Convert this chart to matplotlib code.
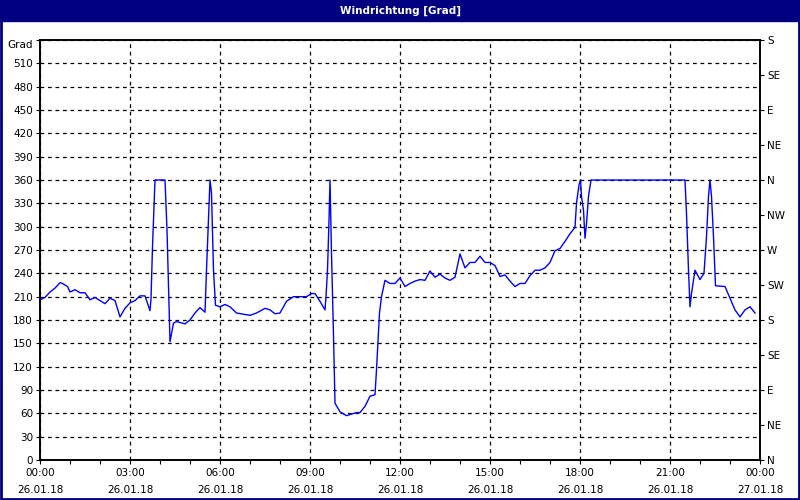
import matplotlib
matplotlib.use("Agg")
import matplotlib.pyplot as plt
import pandas as pd

# wind direction readings, 26.01.18 (time of day, degrees)
times = ["00:00", "00:10", "00:20", "00:30", "00:40", "00:45", "00:55", "01:00", "01:10", "01:20",
         "01:30", "01:40", "01:50", "02:00", "02:10", "02:20", "02:30", "02:40", "02:50", "03:00",
         "03:10", "03:20", "03:30", "03:40", "03:42", "03:45", "03:50", "04:10", "04:14", "04:20",
         "04:27", "04:33", "04:50", "05:00", "05:10", "05:20", "05:30", "05:33", "05:40", "05:43",
         "05:47", "05:51", "06:00", "06:10", "06:20", "06:33", "07:00", "07:13", "07:30", "07:40",
         "07:50", "08:00", "08:13", "08:27", "08:40", "08:53", "09:03", "09:10", "09:20", "09:30",
         "09:32", "09:35", "09:38", "09:40", "09:41", "09:43", "09:47", "09:50", "10:00", "10:13",
         "10:23", "10:33", "10:40", "10:50", "11:00", "11:10", "11:13", "11:19", "11:23", "11:30",
         "11:40", "11:50", "12:00", "12:10", "12:20", "12:30", "12:40", "12:50", "13:00", "13:10",
         "13:20", "13:30", "13:40", "13:50", "14:00", "14:10", "14:20", "14:30", "14:40", "14:50",
         "15:00", "15:10", "15:20", "15:30", "15:40", "15:50", "16:00", "16:10", "16:20", "16:30",
         "16:40", "16:50", "17:00", "17:10", "17:20", "17:30", "17:40", "17:50", "17:53", "17:58",
         "18:01", "18:03", "18:07", "18:10", "18:13", "18:17", "18:22", "21:30", "21:33", "21:37",
         "21:40", "21:43", "21:47", "21:50", "22:00", "22:08", "22:13", "22:17", "22:20", "22:23",
         "22:27", "22:31", "22:50", "23:00", "23:10", "23:20", "23:30", "23:40", "23:50"]
grad = [206, 209, 216, 221, 228, 227, 223, 216, 219, 215,
        215, 206, 209, 205, 201, 208, 205, 184, 195, 202,
        205, 211, 211, 192, 207, 274, 360, 360, 296, 152,
        176, 178, 175, 180, 189, 196, 190, 244, 360, 343,
        244, 199, 197, 200, 197, 189, 186, 189, 195, 193,
        188, 189, 204, 210, 210, 210, 214, 214, 204, 193,
        210, 244, 308, 360, 330, 266, 160, 73, 62, 57,
        59, 61, 61, 69, 82, 84, 116, 189, 210, 231,
        227, 227, 234, 223, 227, 230, 232, 231, 243, 235,
        239, 234, 231, 235, 265, 247, 254, 254, 262, 254,
        254, 250, 236, 238, 230, 223, 227, 227, 237, 244,
        244, 247, 254, 269, 272, 281, 291, 299, 330, 354,
        360, 339, 321, 285, 304, 339, 360, 360, 317, 244,
        197, 214, 231, 244, 232, 240, 287, 339, 360, 339,
        287, 224, 223, 208, 193, 184, 193, 197, 189]

tick_hours = [0, 3, 6, 9, 12, 15, 18, 21, 24]
tick_labels = ["00:00\n26.01.18", "03:00\n26.01.18", "06:00\n26.01.18", "09:00\n26.01.18",
               "12:00\n26.01.18", "15:00\n26.01.18", "18:00\n26.01.18", "21:00\n26.01.18",
               "00:00\n27.01.18"]
left_ticks = list(range(0, 541, 30))
left_labels = [str(v) for v in left_ticks[:-1]] + ["Grad"]
right_ticks = list(range(0, 541, 45))
right_labels = ["N", "NE", "E", "SE", "S", "SW", "W", "NW", "N", "NE", "E", "SE", "S"]

hours = pd.to_timedelta([t + ":00" for t in times]) / pd.Timedelta(hours=1)

fig = plt.figure(figsize=(8, 5), dpi=100, facecolor="white")

# title bar + window border
fig.patches.append(plt.Rectangle((0, 0.958), 1, 0.042, transform=fig.transFigure,
                                 color="#000080", zorder=0))
fig.patches.append(plt.Rectangle((0.001, 0.002), 0.998, 0.996, transform=fig.transFigure,
                                 fill=False, edgecolor="#000080", linewidth=2, zorder=1))
fig.text(0.5, 0.979, "Windrichtung [Grad]", color="white", fontsize=7.5, fontweight="bold",
         ha="center", va="center")

ax = fig.add_axes([0.05, 0.08, 0.9, 0.84])
ax.plot(hours, grad, color="#0000FF", linewidth=1, zorder=3)

ax.set_xlim(0, 24)
ax.set_ylim(0, 540)
ax.set_xticks(tick_hours)
ax.set_xticklabels(tick_labels, fontsize=7.5, linespacing=1.8)
ax.set_xticks(range(0, 25), minor=True)
ax.set_yticks(left_ticks)
ax.set_yticklabels(left_labels, fontsize=7.5)
ax.get_yticklabels()[-1].set_va("top")
ax.tick_params(axis="both", which="both", length=3, width=0.8, direction="out")
ax.tick_params(axis="x", pad=3)
ax.tick_params(axis="y", pad=2)

ax2 = ax.twinx()
ax2.set_ylim(0, 540)
ax2.set_yticks(right_ticks)
ax2.set_yticklabels(right_labels, fontsize=7.5)
ax2.tick_params(axis="y", length=3, width=0.8, pad=2)

ax.grid(True, which="major", color="black", linestyle=(0, (3, 3)), linewidth=0.9)
for a in (ax, ax2):
    for s in a.spines.values():
        s.set_linewidth(1.2)

fig.savefig("out.png", dpi=100, facecolor="white")
